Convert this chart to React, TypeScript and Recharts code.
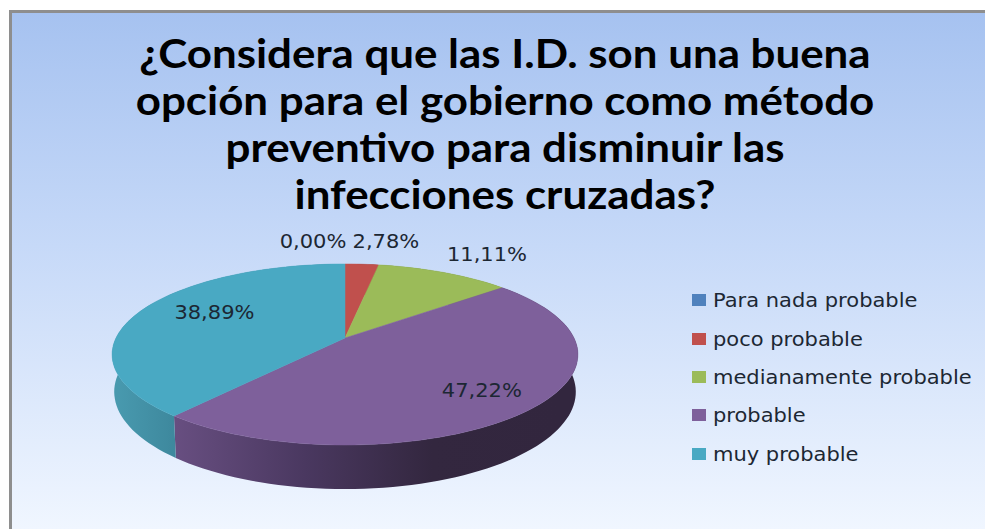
import React from 'react';
import { PieChart, Pie, Cell, Legend } from 'recharts';

const categories = ['Para nada probable', 'poco probable', 'medianamente probable', 'probable', 'muy probable'];
const shares = [0, 2.78, 11.11, 47.22, 38.89];
const shareLabels = ['0,00%', '2,78%', '11,11%', '47,22%', '38,89%'];
const colors = ['#4f81bd', '#c0504d', '#9bbb59', '#7e609b', '#49a9c3'];
const titleLines = [
  '¿Considera que las I.D. son una buena',
  'opción para el gobierno como método',
  'preventivo para disminuir las',
  'infecciones cruzadas?',
];

// where each percentage sits relative to the rim point of its slice
const labelNudge = [[-32, -23], [24, -23], [43, -18], [-49, -19], [72, 3]];
// side wall shading, left to right
const wallShades: Record<string, string[]> = {
  '#c0504d': ['#7a3230', '#7a3230'],
  '#9bbb59': ['#62773a', '#62773a'],
  '#7e609b': ['#674e80', '#4a3860', '#33273f', '#32263e'],
  '#49a9c3': ['#4899ae', '#3d879c'],
};

const W = 985;
const H = 529;
const CX = 345;
const CY = 338;
const R = 229;
const TEXT_STRETCH = 1.105;

// perspective of the tilted disc, top face then bottom face
const TOP = { a: 1, b: 87.5 / 229, k: 0.182, dy: 0 };
const BOTTOM = { a: 227 / 229, b: 94 / 229, k: 0.18, dy: 36.4 };

type Face = typeof TOP;

const project = (cx: number, cy: number, r: number, angle: number, f: Face) => {
  // recharts angles: 90 is up and they run clockwise into negatives
  const t = ((90 - angle) * Math.PI) / 180;
  const w = 1 + f.k * Math.cos(t);
  return [cx + (r * f.a * Math.sin(t)) / w, cy + f.dy - (r * f.b * Math.cos(t)) / w];
};

const arcPoints = (p: any, f: Face) => {
  const steps = Math.max(2, Math.ceil(Math.abs(p.endAngle - p.startAngle) / 2));
  const pts: number[][] = [];
  for (let i = 0; i <= steps; i++) {
    const angle = p.startAngle + ((p.endAngle - p.startAngle) * i) / steps;
    pts.push(project(p.cx, p.cy, p.outerRadius, angle, f));
  }
  return pts;
};

const toPath = (pts: number[][]) => pts.map((q, i) => `${i ? 'L' : 'M'}${q[0].toFixed(1)} ${q[1].toFixed(1)}`).join(' ');

const TopFace = (p: any) => {
  if (p.endAngle === p.startAngle) return <g />;
  const apex = project(p.cx, p.cy, 0, 0, TOP);
  return <path d={`${toPath([apex, ...arcPoints(p, TOP)])} Z`} fill={p.fill} stroke={p.fill} strokeWidth={0.5} />;
};

const Wall = (p: any) => {
  if (p.endAngle === p.startAngle) return <g />;
  const upper = arcPoints(p, TOP);
  const lower = arcPoints(p, BOTTOM).reverse();
  return <path d={`${toPath([...upper, ...lower])} Z`} fill={`url(#wall-${p.index})`} />;
};

const renderLabel = (p: any) => {
  const rim = project(p.cx, p.cy, p.outerRadius, p.midAngle, TOP);
  const [dx, dy] = labelNudge[p.index];
  return (
    <text
      key={p.index}
      transform={`translate(${rim[0] + dx} ${rim[1] + dy}) scale(${TEXT_STRETCH} 1)`}
      textAnchor="middle"
      dominantBaseline="central"
      fontFamily="'DejaVu Sans', sans-serif"
      fontSize={19}
      fill="#1c2733"
    >
      {shareLabels[p.index]}
    </text>
  );
};

const renderLegend = (props: any) => {
  // both pies report their slices, keep one entry per category
  const rows = categories.map(name => props.payload.find((e: any) => e.value === name)).filter(Boolean);
  return (
    <div>
      {rows.map((entry: any) => (
        <div key={entry.value} style={{ display: 'flex', alignItems: 'center', height: 38.4, whiteSpace: 'nowrap' }}>
          <span style={{ width: 14, height: 12, background: entry.color, marginRight: 7, flex: 'none' }} />
          <span
            style={{
              fontFamily: "'DejaVu Sans', sans-serif",
              fontSize: 19,
              color: '#1c2733',
              transform: `scaleX(${TEXT_STRETCH})`,
              transformOrigin: 'left center',
            }}
          >
            {entry.value}
          </span>
        </div>
      ))}
    </div>
  );
};

export default function App() {
  const data = categories.map((name, i) => ({ name, value: shares[i] }));

  return (
    <div style={{ position: 'relative', width: W, height: H, overflow: 'hidden', background: '#fff' }}>
      <style>{'body{margin:0}'}</style>
      <div
        style={{
          position: 'absolute',
          left: 9,
          top: 10,
          width: W - 9,
          height: H - 10,
          boxSizing: 'border-box',
          borderTop: '3px solid #8e8e8e',
          borderLeft: '3px solid #8e8e8e',
          background: 'linear-gradient(180deg, #a6c2f0 0%, #c6d9f8 45%, #f0f6ff 100%)',
        }}
      />
      <PieChart width={W} height={H} margin={{ top: 0, right: 0, bottom: 0, left: 0 }} style={{ position: 'absolute', left: 0, top: 0 }}>
        <defs>
          {colors.map((c, i) => {
            const shades = wallShades[c] ?? [c, c];
            return (
              <linearGradient key={c} id={`wall-${i}`} gradientUnits="userSpaceOnUse" x1={i === 4 ? 118 : 177} x2={i === 4 ? 178 : 560} y1={0} y2={0}>
                {shades.map((s, j) => (
                  <stop key={j} offset={j / Math.max(1, shades.length - 1)} stopColor={s} />
                ))}
              </linearGradient>
            );
          })}
        </defs>
        <Pie
          data={data}
          dataKey="value"
          nameKey="name"
          cx={CX}
          cy={CY}
          outerRadius={R}
          startAngle={90}
          endAngle={-270}
          shape={Wall}
          legendType="none"
          isAnimationActive={false}
        >
          {colors.map(c => <Cell key={c} fill={c} />)}
        </Pie>
        <Pie
          data={data}
          dataKey="value"
          nameKey="name"
          cx={CX}
          cy={CY}
          outerRadius={R}
          startAngle={90}
          endAngle={-270}
          shape={TopFace}
          label={renderLabel}
          labelLine={false}
          isAnimationActive={false}
        >
          {colors.map(c => <Cell key={c} fill={c} />)}
        </Pie>
        <Legend
          layout="vertical"
          align="right"
          verticalAlign="top"
          content={renderLegend}
          wrapperStyle={{ left: 692, top: 281, width: 293 }}
        />
      </PieChart>
      <div
        style={{
          position: 'absolute',
          left: 5,
          width: 1000,
          top: 29,
          textAlign: 'center',
          fontFamily: 'Lato, sans-serif',
          fontWeight: 700,
          fontSize: 41,
          lineHeight: '47px',
          color: '#000',
          transform: 'scaleX(1.07)',
          transformOrigin: '500px 0',
        }}
      >
        {titleLines.map(l => <div key={l}>{l}</div>)}
      </div>
    </div>
  );
}
